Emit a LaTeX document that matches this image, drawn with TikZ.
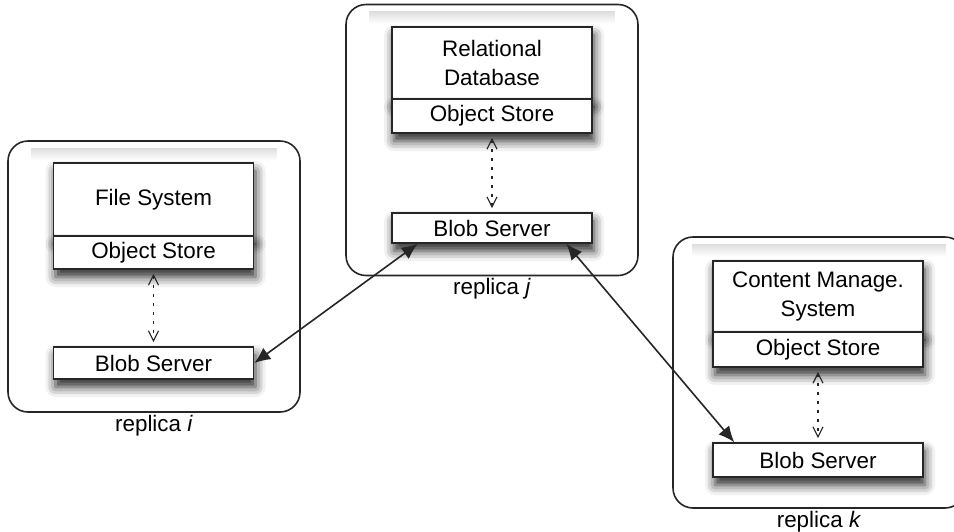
\documentclass[tikz,border=0pt]{standalone}
\usepackage{fontspec}
\setmainfont{Liberation Sans}
\usetikzlibrary{arrows.meta,shadows.blur,positioning}

\begin{document}
\begin{tikzpicture}[x=0.5pt, y=-0.5pt,
	font=\fontsize{11.2}{14.5}\selectfont,
	replica/.style={draw=black!85, line width=0.8pt, rounded corners=10pt, minimum width=146pt, minimum height=135.5pt, inner sep=0pt},
	band/.style={top color=black!13, bottom color=white, draw=none},
	part/.style={draw=black!85, line width=0.8pt, fill=white, minimum width=100pt, inner sep=0pt, align=center,
		blur shadow={shadow xshift=1pt, shadow yshift=-4pt, shadow blur radius=5pt, shadow opacity=85}},
	link/.style={{Latex[length=8pt,width=7pt]}-{Latex[length=8pt,width=7pt]}, line width=0.8pt, black!85},
	local/.style={{Straight Barb[length=5pt,width=5pt]}-{Straight Barb[length=5pt,width=5pt]}, line width=0.6pt,
		dash pattern=on 1.5pt off 3pt, black!85, shorten <=2pt, shorten >=2pt},
	caption/.style={inner sep=0pt}]
	\clip (0,0) rectangle (954,531);
	% replica i
	\node[replica] (ri) at (154,276.5) {};
	\fill[band] ([xshift=12pt,yshift=-4pt]ri.north west) rectangle ([xshift=-12pt,yshift=-10pt]ri.north east);
	\node[part, minimum height=36.5pt] (fsi) at (153.5,199.5) {File System};
	\node[part, minimum height=16.5pt] (osi) at (153.5,252.5) {Object Store};
	\node[part, minimum height=16pt] (blobi) at (153.5,363) {Blob Server};
	\node[caption, below=1pt of ri] (labi) {replica \textit{i}};
	% replica j
	\node[replica] (rj) at (492,140) {};
	\fill[band] ([xshift=12pt,yshift=-4pt]rj.north west) rectangle ([xshift=-12pt,yshift=-10pt]rj.north east);
	\node[part, minimum height=36pt] (fsj) at (492,63) {Relational\\Database};
	\node[part, minimum height=17pt] (osj) at (492,116) {Object Store};
	\node[part, minimum height=15pt] (blobj) at (492,228) {Blob Server};
	\node[caption, below=1pt of rj] (labj) {replica \textit{j}};
	% replica k
	\node[replica] (rk) at (819,372.5) {};
	\fill[band] ([xshift=10pt,yshift=-4pt]rk.north west) rectangle ([xshift=-10pt,yshift=-10pt]rk.north east);
	\node[part, minimum width=105pt, minimum height=35.5pt] (fsk) at (818,296.5) {Content Manage.\\System};
	\node[part, minimum width=105pt, minimum height=17.5pt] (osk) at (818,349.5) {Object Store};
	\node[part, minimum width=105pt, minimum height=17pt] (blobk) at (818,460) {Blob Server};
	\node[caption, below=1pt of rk] (labk) {replica \textit{k}};
	% links
	\draw[local] (osi) -- (blobi);
	\draw[local] (osj) -- (blobj);
	\draw[local] (osk) -- (blobk);
	\draw[link] (blobi.east) -- (blobj.192);
	\draw[link] (blobj.348) -- (blobk.168);
\end{tikzpicture}
\end{document}
